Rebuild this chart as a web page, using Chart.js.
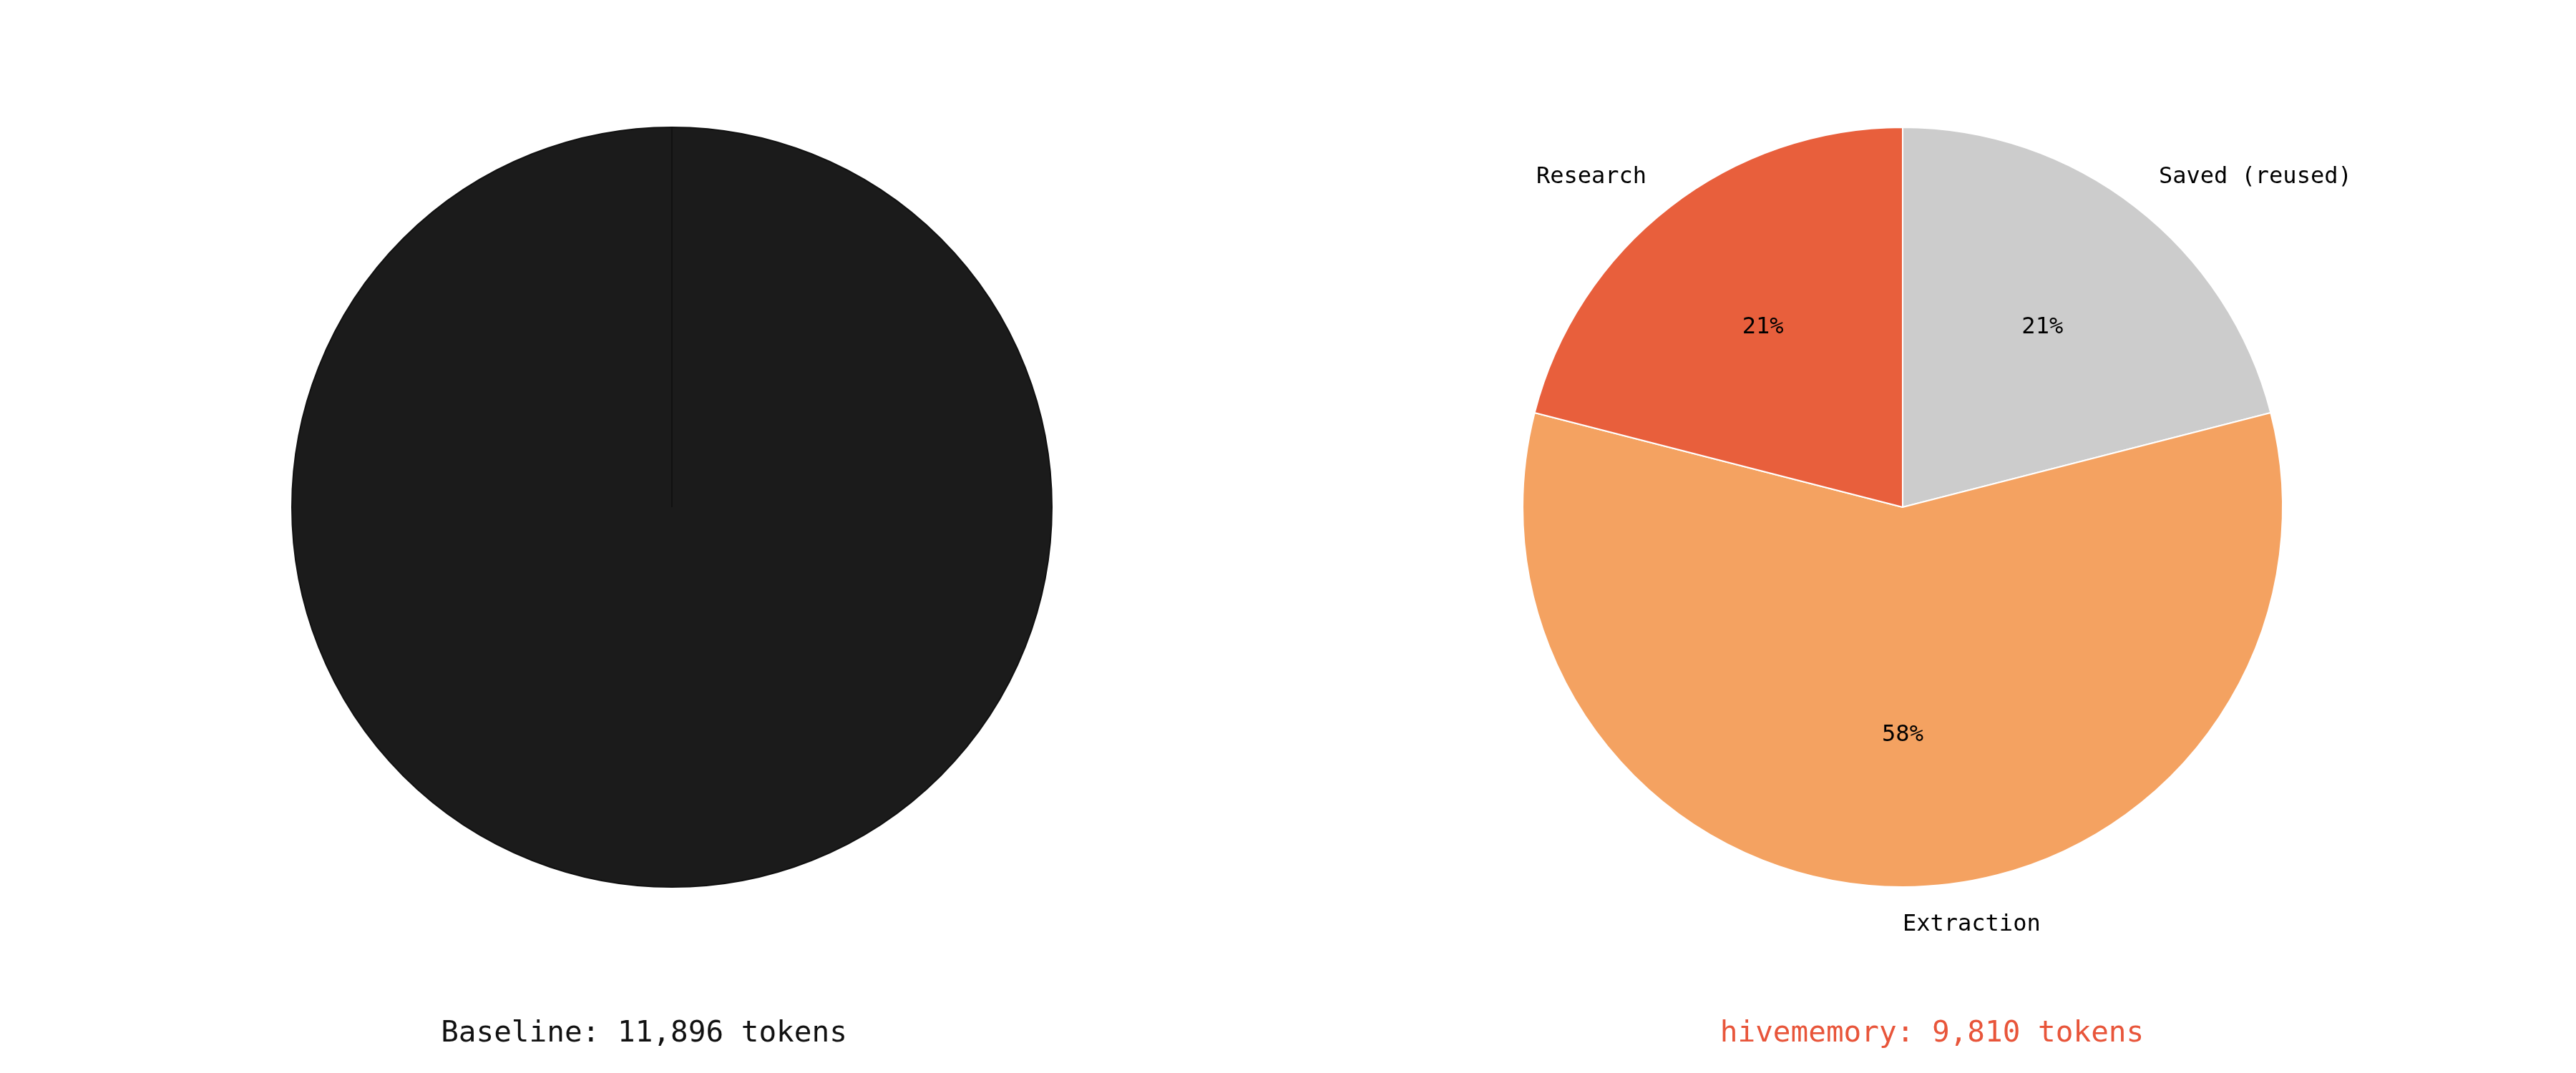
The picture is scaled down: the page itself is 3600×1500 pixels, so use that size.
<!DOCTYPE html>
<html>
<head>
<meta charset="utf-8">
<script src="https://cdn.jsdelivr.net/npm/chart.js@4"></script>
<style>
  body { margin: 0; background: #fff; }
  .wrap { position: relative; width: 3600px; height: 1500px; }
  .box { position: absolute; top: 0; width: 1800px; height: 1500px; }
  .cap { position: absolute; top: 1418px; width: 1800px; text-align: center;
         font-family: "DejaVu Sans Mono", monospace; font-size: 41px; }
</style>
</head>
<body>
<div class="wrap">
  <div class="box" style="left:0"><canvas id="baseChart" width="1800" height="1500"></canvas></div>
  <div class="box" style="left:1800px"><canvas id="hiveChart" width="1800" height="1500"></canvas></div>
  <div class="cap" id="baseCap" style="left:0;color:#111"></div>
  <div class="cap" id="hiveCap" style="left:1800px;color:#E8553A"></div>
</div>
<script>
const baseLabels = ['Baseline'];
const baseValues = [11896];
const hiveLabels = ['Saved (reused)', 'Extraction', 'Research'];
const hiveValues = [2060, 5690, 2060];
const hiveColors = ['#CCCCCC', '#F4A261', '#E85F3C'];

document.getElementById('baseCap').textContent = 'Baseline: 11,896 tokens';
document.getElementById('hiveCap').textContent = 'hivememory: 9,810 tokens';

const font = '"DejaVu Sans Mono", monospace';

// draws outside labels and percentages like matplotlib autopct
const pieLabels = {
  id: 'pieLabels',
  afterDatasetsDraw(chart, args, opts) {
    if (!opts.show) return;
    const ctx = chart.ctx;
    const meta = chart.getDatasetMeta(0);
    const values = chart.data.datasets[0].data;
    const total = values.reduce((a, b) => a + b, 0);
    ctx.save();
    ctx.font = '32px ' + font;
    ctx.fillStyle = '#000';
    ctx.textBaseline = 'middle';
    meta.data.forEach((arc, i) => {
      const p = arc.getProps(['x', 'y', 'startAngle', 'endAngle', 'outerRadius'], true);
      const mid = (p.startAngle + p.endAngle) / 2;
      const cx = Math.cos(mid), cy = Math.sin(mid);
      ctx.textAlign = 'center';
      ctx.fillText(Math.round(values[i] / total * 100) + '%',
        p.x + cx * p.outerRadius * 0.6, p.y + cy * p.outerRadius * 0.6);
      const lx = p.x + cx * p.outerRadius * 1.1, ly = p.y + cy * p.outerRadius * 1.1;
      ctx.textAlign = cx > 0.05 ? 'left' : (cx < -0.05 ? 'right' : 'left');
      ctx.fillText(chart.data.labels[i], lx, ly);
    });
    ctx.restore();
  }
};

new Chart(document.getElementById('baseChart'), {
  type: 'pie',
  data: {
    labels: baseLabels,
    datasets: [{ data: baseValues, backgroundColor: ['#1B1B1B'], borderColor: '#111', borderWidth: 2 }]
  },
  options: {
    responsive: false,
    animation: false,
    layout: { padding: { top: 177, bottom: 259, left: 407, right: 329 } },
    plugins: { legend: { display: false }, tooltip: { enabled: false }, pieLabels: { show: false } }
  },
  plugins: [pieLabels]
});

new Chart(document.getElementById('hiveChart'), {
  type: 'pie',
  data: {
    labels: hiveLabels,
    datasets: [{ data: hiveValues, backgroundColor: hiveColors, borderColor: '#fff', borderWidth: 2 }]
  },
  options: {
    responsive: false,
    animation: false,
    layout: { padding: { top: 177, bottom: 259, left: 327, right: 409 } },
    plugins: { legend: { display: false }, tooltip: { enabled: false }, pieLabels: { show: true } }
  },
  plugins: [pieLabels]
});
</script>
</body>
</html>
